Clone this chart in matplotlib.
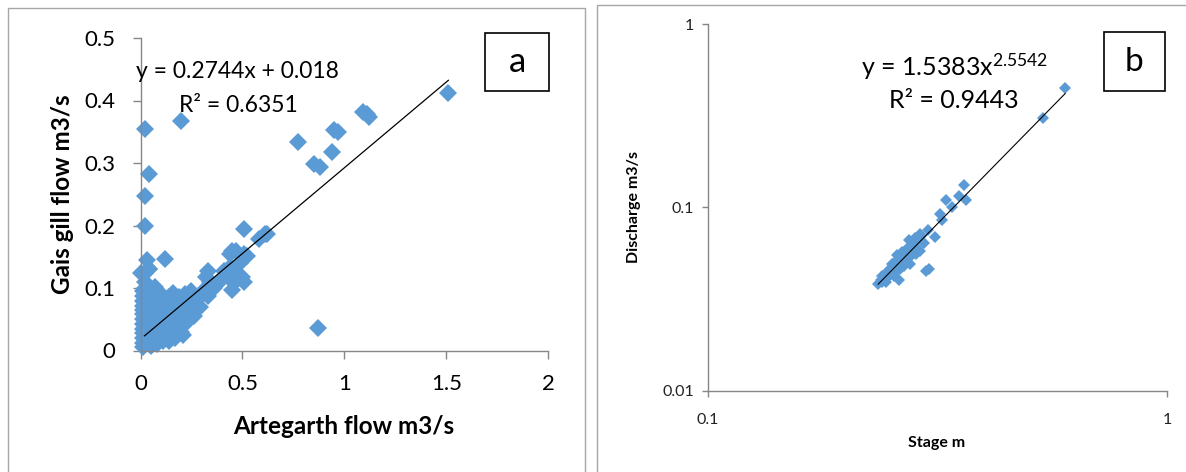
import numpy as np
import matplotlib
matplotlib.use("Agg")
import matplotlib.pyplot as plt
from matplotlib.patches import Rectangle

plt.rcParams.update({
    "font.family": ["Lato", "DejaVu Sans"],
    "mathtext.fontset": "custom", "mathtext.rm": "Lato", "mathtext.it": "Lato",
})

W, H = 1186, 472
BLUE = "#5B9BD5"
GREY = "#868686"

# ---- panel a: Artegarth vs Gais gill flow (m3/s) ----
a_x = [0.01, 0.01, 0.01, 0.01, 0.01, 0.01, 0.01, 0.01, 0.01, 0.01, 0.01, 0.01, 0.01, 0.02, 0.02,
       0.05, 0.05, 0.05, 0.05, 0.05, 0.05, 0.05, 0.05, 0.05, 0.07,
       0.08, 0.08, 0.08, 0.08, 0.08, 0.08, 0.08, 0.08, 0.08,
       0.11, 0.11, 0.11, 0.11, 0.11, 0.11, 0.11, 0.11,
       0.14, 0.14, 0.14, 0.14, 0.14, 0.14, 0.14,
       0.17, 0.17, 0.17, 0.17, 0.17, 0.16, 0.17,
       0.20, 0.20, 0.20, 0.20, 0.19,
       0.23, 0.23, 0.23, 0.22,
       0.26, 0.26, 0.27, 0.25,
       0.29, 0.30, 0.32, 0.33, 0.34, 0.32, 0.33, 0.36, 0.38, 0.40, 0.41, 0.43, 0.44,
       0.45, 0.46, 0.47, 0.44, 0.45, 0.49, 0.50, 0.51, 0.51, 0.52, 0.47, 0.24, 0.21,
       0.02, 0.04, 0.03, 0.04, 0.02, 0.02, 0.12, 0.04, 0.00, 0.02,
       0.51, 0.58, 0.61, 0.62, 0.77, 0.85, 0.88, 0.94, 0.95, 0.97, 1.09, 1.11, 1.12,
       1.51, 0.20, 0.87]
a_y = [0.005, 0.012, 0.020, 0.028, 0.035, 0.042, 0.050, 0.058, 0.065, 0.072, 0.080, 0.088, 0.095, 0.100, 0.110,
       0.008, 0.018, 0.030, 0.040, 0.050, 0.060, 0.070, 0.080, 0.090, 0.102,
       0.010, 0.020, 0.032, 0.045, 0.055, 0.065, 0.075, 0.085, 0.095,
       0.015, 0.025, 0.035, 0.050, 0.060, 0.070, 0.080, 0.088,
       0.015, 0.030, 0.040, 0.055, 0.065, 0.075, 0.085,
       0.020, 0.035, 0.050, 0.060, 0.070, 0.092, 0.080,
       0.030, 0.045, 0.060, 0.070, 0.085,
       0.045, 0.060, 0.075, 0.090,
       0.055, 0.070, 0.080, 0.095,
       0.070, 0.090, 0.100, 0.087, 0.110, 0.118, 0.128, 0.100, 0.108, 0.115, 0.128, 0.120, 0.134,
       0.097, 0.108, 0.120, 0.155, 0.160, 0.140, 0.118, 0.110, 0.155, 0.152, 0.160, 0.065, 0.025,
       0.124, 0.130, 0.145, 0.283, 0.248, 0.199, 0.147, 0.130, 0.124, 0.355,
       0.194, 0.179, 0.187, 0.187, 0.334, 0.299, 0.294, 0.318, 0.353, 0.350, 0.382, 0.378, 0.374,
       0.412, 0.368, 0.036]
a_slope, a_icpt = 0.2744, 0.018

# ---- panel b: stage (m) vs discharge (m3/s) ----
b_x = [0.600, 0.538, 0.362, 0.353, 0.365, 0.330, 0.340, 0.321, 0.324, 0.313, 0.301, 0.303, 0.298,
       0.290, 0.284, 0.274, 0.279, 0.268, 0.263, 0.258, 0.253, 0.261, 0.249, 0.244, 0.240, 0.235,
       0.240, 0.258, 0.265, 0.274, 0.282, 0.290, 0.296, 0.268, 0.276, 0.255, 0.284,
       0.238, 0.243, 0.247, 0.250, 0.252, 0.256, 0.259, 0.262, 0.264, 0.267, 0.270, 0.272,
       0.275, 0.277, 0.280, 0.283, 0.287, 0.292, 0.245, 0.255, 0.262, 0.270, 0.278, 0.286]
b_y = [0.445, 0.309, 0.132, 0.116, 0.109, 0.110, 0.100, 0.092, 0.085, 0.069, 0.075, 0.046, 0.045,
       0.058, 0.066, 0.061, 0.056, 0.054, 0.049, 0.051, 0.047, 0.040, 0.043, 0.041, 0.039, 0.038,
       0.042, 0.055, 0.057, 0.066, 0.064, 0.072, 0.064, 0.048, 0.049, 0.044, 0.056,
       0.040, 0.043, 0.045, 0.046, 0.049, 0.048, 0.052, 0.051, 0.054, 0.057, 0.055, 0.059,
       0.058, 0.061, 0.063, 0.068, 0.069, 0.070, 0.039, 0.042, 0.046, 0.052, 0.055, 0.060]
b_coef, b_exp = 1.5383, 2.5542


def fx(px): return px / W
def fy(py): return 1 - py / H


fig = plt.figure(figsize=(W / 100, H / 100), dpi=100)
fig.patches.append(Rectangle((fx(8), fy(480)), fx(585 - 8), fy(8) - fy(480), transform=fig.transFigure,
                             fill=False, edgecolor="#a6a6a6", lw=1.0))
fig.patches.append(Rectangle((fx(597), fy(480)), fx(1200 - 597), fy(5) - fy(480), transform=fig.transFigure,
                             fill=False, edgecolor="#a6a6a6", lw=1.0))


def style(ax, tl):
    for s in ("top", "right"):
        ax.spines[s].set_visible(False)
    for s in ("left", "bottom"):
        ax.spines[s].set_color(GREY); ax.spines[s].set_linewidth(1.0)
    ax.tick_params(direction="out", color=GREY, length=tl, width=1.0)
    ax.patch.set_alpha(0)


# panel a
ax = fig.add_axes([fx(140.5), fy(350.5), fx(548.3 - 140.5), fy(38) - fy(350.5)])
ax.plot(a_x, a_y, "D", color=BLUE, ms=9.6, mew=0, clip_on=False)
xl = np.array([min(a_x) + 0.02, max(a_x)])
ax.plot(xl, a_slope * xl + a_icpt, color="black", lw=0.9)
ax.set_xlim(0, 2); ax.set_ylim(0, 0.5)
ax.set_xticks([0, 0.5, 1, 1.5, 2]); ax.set_xticklabels(["0", "0.5", "1", "1.5", "2"])
ax.set_yticks([0, 0.1, 0.2, 0.3, 0.4, 0.5]); ax.set_yticklabels(["0", "0.1", "0.2", "0.3", "0.4", "0.5"])
style(ax, 6)
ax.tick_params(labelsize=16)
ax.tick_params(axis="y", pad=12)
ax.tick_params(axis="x", pad=11)
fig.text(fx(344), fy(427), "Artegarth flow m3/s", fontsize=17.5, fontweight="bold", ha="center", va="center")
fig.text(fx(62), fy(194), "Gais gill flow m3/s", fontsize=17.5, fontweight="bold", ha="center", va="center",
         rotation=90)
fig.text(fx(136), fy(72), f"y = {a_slope}x + {a_icpt}", fontsize=16.5, ha="left", va="center")
fig.text(fx(179), fy(105), "R\u00b2 = 0.6351", fontsize=16.5, ha="left", va="center")
fig.patches.append(Rectangle((fx(485), fy(91)), fx(64), fy(33) - fy(91), transform=fig.transFigure,
                             fill=False, edgecolor="black", lw=1.2))
fig.text(fx(517), fy(62), "a", fontsize=25, ha="center", va="center")

# panel b
bx = fig.add_axes([fx(707.7), fy(390.7), fx(1167 - 707.7), fy(24) - fy(390.7)])
bx.set_xscale("log"); bx.set_yscale("log")
bx.plot(b_x, b_y, "D", color=BLUE, ms=6.0, mew=0)
xs = np.geomspace(min(b_x), max(b_x), 50)
bx.plot(xs, b_coef * xs ** b_exp, color="black", lw=0.8)
bx.set_xlim(0.1, 1); bx.set_ylim(0.01, 1)
bx.set_xticks([0.1, 1]); bx.set_xticklabels(["0.1", "1"])
bx.set_yticks([0.01, 0.1, 1]); bx.set_yticklabels(["0.01", "0.1", "1"])
bx.minorticks_off()
style(bx, 4)
bx.tick_params(labelsize=11.5, labelcolor="#222222")
bx.tick_params(axis="y", pad=6)
bx.tick_params(axis="x", pad=12)
fig.text(fx(937), fy(443), "Stage m", fontsize=11.5, fontweight="bold", ha="center", va="center")
fig.text(fx(634), fy(207), "Discharge m3/s", fontsize=11.5, fontweight="bold", ha="center", va="center",
         rotation=90)
fig.text(fx(861), fy(67), f"y = {b_coef}x$^{{{b_exp}}}$", fontsize=18, ha="left", va="center")
fig.text(fx(889), fy(100), "R\u00b2 = 0.9443", fontsize=18, ha="left", va="center")
fig.patches.append(Rectangle((fx(1104), fy(91)), fx(61), fy(32) - fy(91), transform=fig.transFigure,
                             fill=False, edgecolor="black", lw=1.2))
fig.text(fx(1134), fy(62), "b", fontsize=24, ha="center", va="center")

fig.savefig("out.png", dpi=100)
